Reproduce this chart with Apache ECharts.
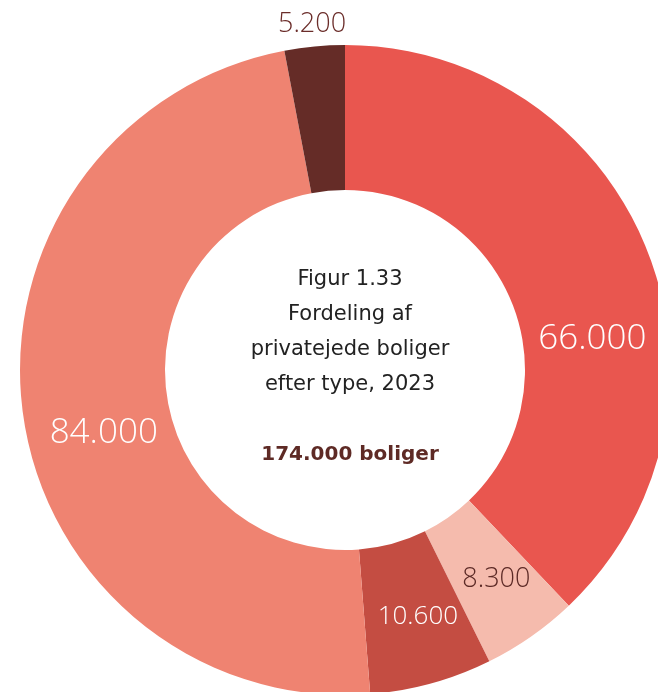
<!DOCTYPE html>
<html lang="da" style="height: 100%">
<head>
<meta charset="utf-8">
<title>Fordeling af privatejede boliger</title>
</head>
<body style="height: 100%; margin: 0; background: #fff">
<div id="container" style="width: 658px; height: 692px"></div>
<script type="text/javascript" src="https://cdn.jsdelivr.net/npm/echarts/dist/echarts.min.js"></script>
<script type="text/javascript">
var dom = document.getElementById('container');
var myChart = echarts.init(dom);

// Values, clockwise from the top
const values = [66000, 8300, 10600, 84000, 5200];
const labels = ['66.000', '8.300', '10.600', '84.000', '5.200'];
const colors = ['#E9564F', '#F5BBAD', '#C44D42', '#EF8371', '#652C27'];
const labelColors = ['#ffffff', '#5c2a26', '#ffffff', '#ffffff', '#6b2d2a'];
const labelSizes = [35, 27, 26, 35, 27];
// nudges from the slice middle, as in the original layout
const labelOffsets = [[10, 64], [5, 0], [5, 0], [12, 29], [-9, -91]];

const titleLines = ['Figur 1.33', 'Fordeling af', 'privatejede boliger', 'efter type, 2023'];
const totalText = '174.000 boliger';

var centerFont = '"DejaVu Sans", "Open Sans", sans-serif';
var labelFont = '"Open Sans", Lato, sans-serif';

var option = {
    animation: false,
    title: [
        {
            text: titleLines.join('\n'),
            left: 345,
            top: 257,
            textAlign: 'center',
            textStyle: {
                fontFamily: centerFont,
                fontSize: 21,
                fontWeight: 'normal',
                color: '#222',
                lineHeight: 35,
                align: 'center'
            }
        },
        {
            text: totalText,
            left: 345,
            top: 440,
            textAlign: 'center',
            textStyle: {
                fontFamily: centerFont,
                fontSize: 20,
                fontWeight: 'bold',
                color: '#5e2a25'
            }
        }
    ],
    series: [
        {
            type: 'pie',
            center: [345, 370],
            radius: [180, 325],
            startAngle: 90,
            clockwise: true,
            silent: true,
            label: {
                show: true,
                position: 'inside',
                fontFamily: labelFont,
                fontWeight: 300
            },
            labelLine: { show: false },
            data: values.map(function (v, i) {
                return {
                    value: v,
                    itemStyle: { color: colors[i] },
                    label: {
                        formatter: labels[i],
                        color: labelColors[i],
                        fontSize: labelSizes[i],
                        offset: labelOffsets[i]
                    }
                };
            })
        }
    ]
};

myChart.setOption(option);
window.addEventListener('resize', myChart.resize);
</script>
</body>
</html>
